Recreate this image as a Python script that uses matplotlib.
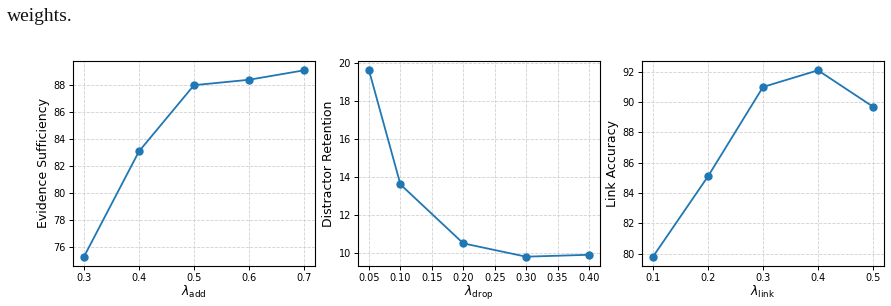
import matplotlib.pyplot as plt

# sensitivity sweeps for the three loss weights
lam_add = [0.3, 0.4, 0.5, 0.6, 0.7]
suff = [75.3, 83.1, 88.0, 88.4, 89.1]

lam_drop = [0.05, 0.10, 0.20, 0.30, 0.40]
retention = [19.6, 13.6, 10.5, 9.8, 9.9]

lam_link = [0.1, 0.2, 0.3, 0.4, 0.5]
link_acc = [79.8, 85.1, 91.0, 92.1, 89.7]

panels = [
    (lam_add, suff, r'$\lambda_{\mathrm{add}}$', 'Evidence Sufficiency', [76, 78, 80, 82, 84, 86, 88]),
    (lam_drop, retention, r'$\lambda_{\mathrm{drop}}$', 'Distractor Retention', [10, 12, 14, 16, 18, 20]),
    (lam_link, link_acc, r'$\lambda_{\mathrm{link}}$', 'Link Accuracy', [80, 82, 84, 86, 88, 90, 92]),
]

fig = plt.figure(figsize=(8.91, 3.06), dpi=100)
fig.text(0.008, 0.932, 'weights.', family='Liberation Serif', fontsize=14, color='#111111')

lefts = [73 / 891, 358 / 891, 642 / 891]
for left, (x, y, xl, yl, yt) in zip(lefts, panels):
    ax = fig.add_axes([left, 40 / 306, 242 / 891, 205 / 306])
    ax.plot(x, y, marker='o', color='#1f77b4', linewidth=1.3, markersize=5)
    ax.set_xlabel(xl, fontsize=9, labelpad=1)
    ax.set_ylabel(yl, fontsize=9, labelpad=3)
    ax.set_yticks(yt)
    if x is lam_drop:
        ax.set_xticks([0.05, 0.10, 0.15, 0.20, 0.25, 0.30, 0.35, 0.40])
        ax.set_xticklabels(['0.05', '0.10', '0.15', '0.20', '0.25', '0.30', '0.35', '0.40'])
    else:
        ax.set_xticks(x)
    ax.tick_params(labelsize=7, length=3, width=0.7, pad=2)
    ax.grid(True, linestyle='--', linewidth=0.6, color='#cccccc', alpha=0.9)
    for s in ax.spines.values():
        s.set_linewidth(0.8)

plt.savefig('out.png', dpi=100)
